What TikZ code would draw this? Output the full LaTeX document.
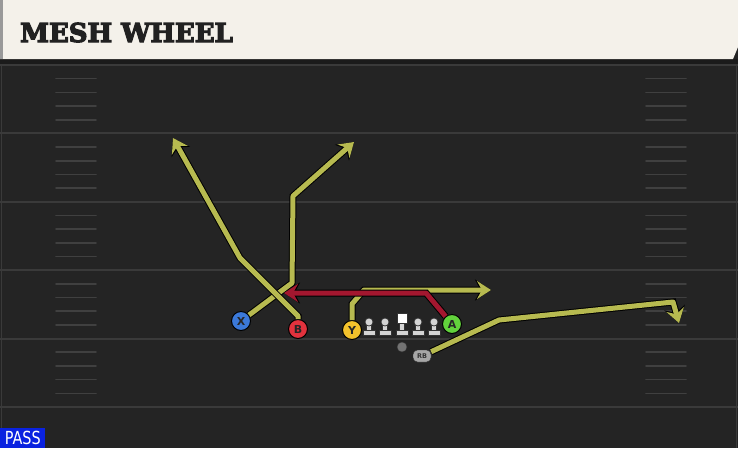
\documentclass[tikz,border=0pt]{standalone}
\usepackage{fontspec}
\newfontfamily\titlefont{DejaVu Serif}
\newfontfamily\markfont{DejaVu Sans}
\newfontfamily\passfont[FakeStretch=0.8]{DejaVu Sans}
\usetikzlibrary{arrows.meta, positioning}
\definecolor{turf}{HTML}{242424}
\definecolor{bandgray}{HTML}{1B1B1B}
\definecolor{yardgray}{HTML}{3A3A3A}
\definecolor{hashgray}{HTML}{404040}
\definecolor{cream}{HTML}{F4F1EA}
\definecolor{olive}{HTML}{B7BA50}
\definecolor{crimson}{HTML}{A3172F}
\definecolor{xblue}{HTML}{3B79D9}
\definecolor{bred}{HTML}{E2323D}
\definecolor{yyellow}{HTML}{F3C22C}
\definecolor{agreen}{HTML}{62D23C}
\definecolor{linegray}{HTML}{D4D4D4}
\definecolor{passblue}{HTML}{0A22E0}
\newcommand\heavytext[1]{\special{pdf:literal direct 2 Tr 1.1 w}#1\special{pdf:literal direct 0 Tr}}
\tikzset{
		yard/.style={yardgray, line width=2pt},
		hash/.style={hashgray, line width=1.6pt, line cap=round},
		player/.style={circle, draw=black, line width=1pt, fill=#1, minimum size=19pt, inner sep=0pt,
			font=\markfont\bfseries\fontsize{11}{11}\selectfont, text=black!85},
		route/.style={draw=#1, line width=5pt, line join=round, -{Stealth[length=14pt, width=18pt, inset=5pt]},
			preaction={draw=black, line width=7pt, -{Stealth[length=16pt, width=21pt, inset=5.5pt]}}},
		route/.default=olive,
		lineman/.style={fill=linegray, draw=black!80, line width=0.7pt}
	}

\begin{document}
\begin{tikzpicture}[x=1pt, y=-1pt]
				\useasboundingbox (0,0) rectangle (738,448);
				\fill[turf] (0,0) rectangle (738,448);
				\fill[bandgray] (0,59) rectangle (738,65);
				\foreach \i in {0,...,5}
					\draw[yard] (0,65+68.4*\i) -- (738,65+68.4*\i);
				\foreach \k in {1,2,3,4,6,7,8,9,11,12,13,14,16,17,18,19,21,22,23,24}
					\draw[hash] (56,65+13.68*\k) -- (96,65+13.68*\k) (646,65+13.68*\k) -- (686,65+13.68*\k);
				\draw[yardgray, line width=1pt] (1.5,65) -- (1.5,448) (736.5,65) -- (736.5,448);

				\fill[cream] (0,0) -- (738,0) -- (738,47) -- (733,59) -- (0,59) -- cycle;
				\fill[black!40] (0,0) rectangle (2.5,59);
				\node[anchor=base west, inner sep=0pt, text=black!87,
					font=\titlefont\bfseries\fontsize{26}{26}\selectfont] (title) at (20,42) {\heavytext{MESH WHEEL}};

				\foreach \x in {369,385,418,434}{
					\filldraw[lineman] (\x-6,330) rectangle (\x+6,335.5);
					\filldraw[lineman] (\x-2.5,325) rectangle (\x+2.5,330);
					\filldraw[lineman] (\x,322) circle (4pt);
				}
				\filldraw[lineman] (396,330) rectangle (408,335.5);
				\filldraw[lineman] (399.5,323) rectangle (404.5,330);
				\filldraw[fill=white, draw=black!80, line width=0.7pt] (397,313.5) rectangle (407,323.5);

				\node[player=xblue]   (X)  at (241,321) {X};
				\node[player=bred]    (B)  at (298,329) {B};
				\node[player=yyellow] (Y)  at (352,330) {Y};
				\node[player=agreen]  (A)  at (452,324) {A};
				\node[circle, fill=black!55, draw=black!80, minimum size=10pt, inner sep=0pt] (QB) at (402,347) {};
				\node[draw=black!80, fill=black!35, rounded corners=4.5pt, minimum width=18pt, minimum height=12pt,
					inner sep=0pt, font=\markfont\bfseries\fontsize{6.5}{6.5}\selectfont, text=black!80] (RB) at (422,356) {RB};

				\coordinate (x1) at (292,283);
				\coordinate (x2) at (293,196);
				\coordinate (x3) at (354,142);
				\coordinate (b1) at (298,316);
				\coordinate (b2) at (240,258);
				\coordinate (b3) at (173,138);
				\coordinate (y1) at (352,304);
				\coordinate (y2) at (364,290);
				\coordinate (y3) at (491,290);
				\coordinate (a1) at (426,293);
				\coordinate (a2) at (284,293);
				\coordinate (r1) at (499,320);
				\coordinate (r2) at (673,302);
				\coordinate (r3) at (679,323);

				\draw[route] (X) -- (x1) -- (x2) -- (x3);
				\draw[route] (B) -- (b1) -- (b2) -- (b3);
				\draw[route] (Y) -- (y1) -- (y2) -- (y3);
				\draw[route=crimson] (A) -- (a1) -- (a2);
				\draw[route] (RB) -- (r1) -- (r2) -- (r3);

				\node[fill=passblue, text=white, anchor=south west, minimum width=45pt, minimum height=20pt, inner sep=0pt,
					font=\passfont\fontsize{18}{18}\selectfont] (play) at (0,448) {PASS};
			\end{tikzpicture}
\end{document}
